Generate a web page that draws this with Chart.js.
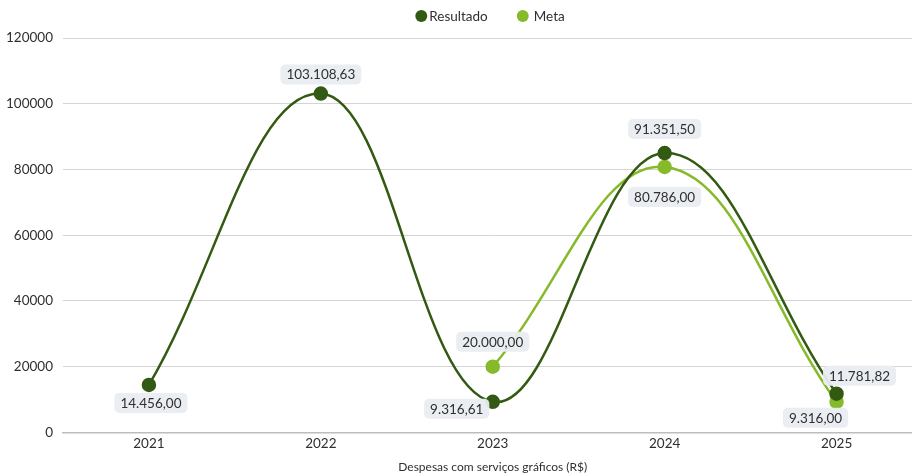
<!DOCTYPE html>
<html>
<head>
<meta charset="utf-8">
<script src="https://cdn.jsdelivr.net/npm/chart.js@4.4.0/dist/chart.umd.min.js"></script>
<style>
html,body{margin:0;padding:0;background:#fff;overflow:hidden;width:912px;height:474px;}
#wrap{width:931px;height:474px;position:relative;}
</style>
</head>
<body>
<div id="wrap"><canvas id="c"></canvas></div>
<script>
const categories = ['2021', '2022', '2023', '2024', '2025'];
const resultadoValues = [14456.00, 103108.63, 9316.61, 85000, 11781.82];
const metaValues = [null, null, 20000.00, 80786.00, 9316.00];
const resultadoLabels = ['14.456,00', '103.108,63', '9.316,61', '91.351,50', '11.781,82'];
const metaLabels = [null, null, '20.000,00', '80.786,00', '9.316,00'];
const yTicks = [0, 20000, 40000, 60000, 80000, 100000, 120000];

const FONT = 'Lato, "Noto Sans", sans-serif';
const DARK = '#335a12';
const LIGHT = '#86ba2a';
const TEXT = '#2f2f2f';

// label offsets (dx, dy) relative to point, per dataset
const labelOffsets = [
  [[2, 18], [0, -19], [-36, 7], [0, -24], [23, -18]],
  [null, null, [0, -25], [0, 30], [-21, 16]]
];

const labelPlugin = {
  id: 'valueLabels',
  afterDatasetsDraw(chart) {
    const ctx = chart.ctx;
    const texts = [resultadoLabels, metaLabels];
    ctx.save();
    ctx.font = '13.5px ' + FONT;
    ctx.textAlign = 'center';
    ctx.textBaseline = 'middle';
    chart.data.datasets.forEach((ds, di) => {
      const meta = chart.getDatasetMeta(di);
      meta.data.forEach((pt, i) => {
        const t = texts[di][i];
        if (t == null || ds.data[i] == null) return;
        const off = labelOffsets[di][i];
        const cx = pt.x + off[0];
        const cy = pt.y + off[1];
        const w = ctx.measureText(t).width + 12;
        const h = 20;
        ctx.fillStyle = 'rgba(233,236,240,0.95)';
        ctx.beginPath();
        ctx.roundRect(cx - w / 2, cy - h / 2, w, h, 5);
        ctx.fill();
        ctx.fillStyle = TEXT;
        ctx.fillText(t, cx, cy + 0.5);
      });
    });
    ctx.restore();
  }
};

// simple legend drawn on the canvas (circle markers + dataset labels)
const legendPlugin = {
  id: 'topLegend',
  afterDraw(chart) {
    const ctx = chart.ctx;
    const ds = chart.data.datasets;
    ctx.save();
    ctx.font = '13.5px ' + FONT;
    ctx.textBaseline = 'middle';
    ctx.textAlign = 'left';
    const r = 6, gapText = [2, 5], gapItem = 29, cy = 16, centerX = 490;
    const widths = ds.map((d, i) => 2 * r + gapText[i] + ctx.measureText(d.label).width);
    const total = widths.reduce((a, b) => a + b, 0) + gapItem * (ds.length - 1);
    let x = centerX - total / 2;
    ds.forEach((d, i) => {
      ctx.fillStyle = d.borderColor;
      ctx.beginPath();
      ctx.arc(x + r, cy, r, 0, Math.PI * 2);
      ctx.fill();
      ctx.fillStyle = TEXT;
      ctx.fillText(d.label, x + 2 * r + gapText[i], cy + 0.5);
      x += widths[i] + gapItem;
    });
    ctx.restore();
  }
};

new Chart(document.getElementById('c'), {
  type: 'line',
  data: {
    labels: categories,
    datasets: [
      {
        label: 'Resultado',
        data: resultadoValues,
        borderColor: DARK,
        backgroundColor: DARK,
        pointBackgroundColor: DARK,
        pointBorderColor: DARK,
        borderWidth: 2.5,
        pointRadius: 6,
        tension: 0.4
      },
      {
        label: 'Meta',
        data: metaValues,
        borderColor: LIGHT,
        backgroundColor: LIGHT,
        pointBackgroundColor: LIGHT,
        pointBorderColor: LIGHT,
        borderWidth: 2.5,
        pointRadius: 6,
        tension: 0.4
      }
    ]
  },
  options: {
    responsive: true,
    maintainAspectRatio: false,
    animation: false,
    layout: { padding: { left: -4, right: 0, top: 38, bottom: 0 } },
    plugins: {
      legend: { display: false },
      tooltip: { enabled: false }
    },
    scales: {
      x: {
        offset: true,
        afterFit(scale) { scale.paddingLeft = 0; scale.paddingRight = 0; },
        grid: { display: false, drawTicks: false },
        border: { display: true, color: '#bdbdbd', width: 1.5 },
        ticks: { color: TEXT, font: { family: FONT, size: 13.5 }, padding: 3 },
        title: {
          display: true,
          text: 'Despesas com serviços gráficos (R$)',
          color: TEXT,
          font: { family: FONT, size: 12 },
          padding: { top: 5, bottom: 0 }
        }
      },
      y: {
        min: 0,
        max: 120000,
        afterBuildTicks(axis) { axis.ticks = yTicks.map(v => ({ value: v })); },
        grid: { color: '#d4d4d4', drawTicks: false },
        border: { display: false },
        ticks: {
          color: TEXT,
          font: { family: FONT, size: 13.5 },
          padding: 10,
          callback: (v) => String(v)
        }
      }
    }
  },
  plugins: [labelPlugin, legendPlugin]
});
</script>
</body>
</html>
